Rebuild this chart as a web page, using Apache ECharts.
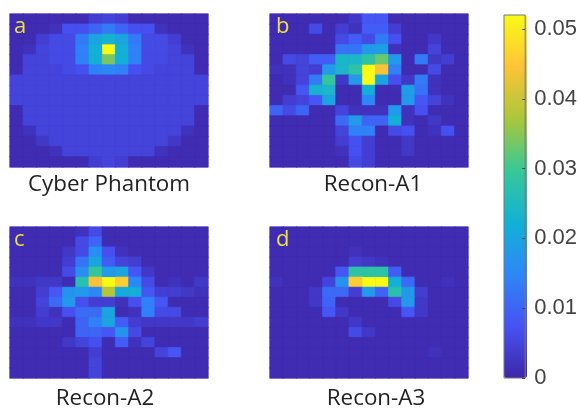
<!DOCTYPE html>
<html><head><meta charset="utf-8">
<style>html,body{margin:0;padding:0;background:#fff}#c{width:580px;height:409px;filter:blur(0.55px)}</style>
<script src="https://cdn.jsdelivr.net/npm/echarts@6/dist/echarts.min.js"></script>
</head><body><div id="c"></div>
<script>
// cell values in units of 0.001, rows top to bottom
const cyberPhantom = [
[1,1,1,1,1,1,4,5,4,1,1,1,1,1,1],
[1,1,1,2,7,7,10,13,10,7,7,2,1,1,1],
[1,1,4,6,6,13,20,23,20,13,6,6,4,1,1],
[1,2,5,6,6,14,22,52,22,14,6,6,5,2,1],
[1,5,5,6,6,14,22,34,22,14,6,6,5,5,1],
[1,5,5,5,6,7,14,15,14,7,6,5,5,5,1],
[5,5,5,5,5,5,5,5,5,5,5,5,5,5,5],
[5,5,5,5,5,5,5,5,5,5,5,5,5,5,5],
[5,5,5,5,5,5,5,5,5,5,5,5,5,5,5],
[1,5,5,5,5,5,5,5,5,5,5,5,5,5,1],
[1,5,5,5,5,5,5,5,5,5,5,5,5,5,1],
[1,2,5,5,5,5,5,5,5,5,5,5,5,2,1],
[1,1,3,5,5,5,5,5,5,5,5,5,3,1,1],
[1,1,1,2,5,5,5,5,5,5,5,2,1,1,1],
[1,1,1,1,1,1,4,5,4,1,1,1,1,1,1]];
const reconA1 = [
[1,1,1,1,1,1,3,8,8,1,1,1,1,1,1],
[1,1,1,6,1,4,2,9,9,4,1,1,1,1,1],
[1,1,1,1,1,6,9,6,13,7,1,1,3,1,1],
[1,1,1,1,1,12,12,18,19,2,1,1,5,1,1],
[1,6,5,9,9,24,24,28,33,18,1,13,3,4,1],
[2,2,5,4,18,24,28,52,44,14,1,1,6,1,1],
[1,2,5,13,29,3,18,52,20,7,3,13,2,1,1],
[1,1,8,23,24,1,1,22,1,1,19,12,2,1,1],
[1,4,5,8,20,1,1,15,1,1,18,8,5,2,1],
[10,6,10,1,1,5,2,2,2,18,2,7,1,1,1],
[1,1,1,1,1,11,18,10,10,22,2,1,3,1,1],
[1,1,1,1,1,5,14,14,1,6,7,1,2,7,1],
[1,1,1,1,1,4,7,4,1,1,3,1,1,1,1],
[1,1,1,1,1,2,7,4,1,1,3,1,1,1,1],
[1,1,1,1,1,1,6,4,1,1,1,1,1,1,1]];
const reconA2 = [
[1,1,1,1,1,2,6,1,1,1,1,1,1,1,1],
[1,1,1,1,1,6,10,1,1,1,1,1,1,1,1],
[1,1,1,1,3,6,16,7,2,1,1,1,1,1,1],
[1,1,1,1,4,12,20,9,5,4,1,1,1,1,1],
[1,1,1,1,6,16,29,18,20,8,3,1,1,1,1],
[2,2,3,3,1,27,44,52,46,15,6,1,2,1,3],
[1,1,4,8,17,18,15,38,21,22,8,4,4,3,2],
[1,1,5,11,18,7,4,4,2,7,14,8,1,1,1],
[1,1,4,2,7,11,11,20,1,2,14,6,6,1,1],
[2,2,3,3,1,10,14,20,9,4,3,3,3,3,4],
[1,1,1,1,1,10,10,8,17,6,1,1,1,1,1],
[1,1,1,1,3,5,7,1,9,2,5,1,1,1,1],
[1,1,1,1,1,1,4,1,1,1,1,5,8,1,1],
[1,1,1,1,1,1,5,1,1,1,1,1,1,1,1],
[1,1,1,1,1,1,5,1,1,1,1,1,1,1,1]];
const reconA3 = [
[1,1,1,1,1,1,1,1,1,1,1,1,1,1,1],
[1,1,1,1,1,1,1,1,1,1,1,1,1,1,1],
[1,1,1,1,1,1,2,1,1,1,1,1,1,1,1],
[1,1,1,1,1,1,4,3,2,1,1,1,1,1,1],
[1,1,1,1,1,8,28,28,28,9,1,1,1,1,1],
[2,1,1,1,5,17,46,52,52,22,11,1,1,2,1],
[1,1,1,3,11,11,4,18,10,27,18,4,1,1,1],
[1,1,1,3,10,1,1,1,1,6,18,3,1,1,1],
[1,1,1,1,8,3,1,1,1,1,8,3,1,1,1],
[1,1,1,1,1,1,3,1,1,1,1,1,1,1,1],
[1,1,1,1,1,1,6,3,1,1,1,1,1,1,1],
[1,1,1,1,1,1,1,1,1,1,1,1,1,1,1],
[1,1,1,1,1,1,1,1,1,1,1,1,2,1,1],
[1,1,1,1,1,1,1,1,1,1,1,1,1,1,1],
[1,1,1,1,1,1,1,1,1,1,1,1,1,1,1]];
const panelMatrices = [cyberPhantom, reconA1, reconA2, reconA3];
const panelTitles = ['Cyber Phantom','Recon-A1','Recon-A2','Recon-A3'];
const panelLetters = ['a','b','c','d'];
const colorbarTicks = [0,0.01,0.02,0.03,0.04,0.05];
const colorbarMax = 0.052;
const parula = ['#3e26a8','#4752f4','#2d87f7','#12b1d6','#37c897','#abc739','#fec338','#f9fb14'];

const rects = [
  {left:10,top:14,width:198,height:153},
  {left:270,top:14,width:198,height:153},
  {left:10,top:227,width:198,height:151},
  {left:270,top:227,width:198,height:151}];
const titleAt = [[109,174],[373,174],[105,388],[376,388]];
const letterAt = [[14,16],[276,16],[14,229],[276,229]];
const idx = Array.from({length:15},(_,i)=>i);

const grid=[],xAxis=[],yAxis=[],series=[],title=[];
panelMatrices.forEach((m,p)=>{
  grid.push({...rects[p],show:true,backgroundColor:'#3e26a8',borderWidth:0});
  xAxis.push({type:'category',gridIndex:p,data:idx,show:false});
  yAxis.push({type:'category',gridIndex:p,data:idx,inverse:true,show:false});
  const data=[];
  m.forEach((row,r)=>row.forEach((v,c)=>data.push({value:[c,r,v*0.001],
    itemStyle:{borderWidth:0.7,borderColor:echarts.color.lerp(v*0.001/colorbarMax,parula)}})));
  series.push({type:'heatmap',xAxisIndex:p,yAxisIndex:p,data,silent:true,progressive:0,animation:false,itemStyle:{opacity:1}});
  title.push({text:panelTitles[p],left:titleAt[p][0],top:titleAt[p][1],textAlign:'center',padding:0,
    textStyle:{fontFamily:'Open Sans',fontSize:22.4,fontWeight:'normal',color:'#222'}});
  title.push({text:panelLetters[p],left:letterAt[p][0],top:letterAt[p][1],padding:0,
    textStyle:{fontFamily:'Open Sans',fontSize:22,fontWeight:'normal',color:'#ece03c'},z:10});
});
// colorbar axis
grid.push({left:504,top:15,width:23,height:363,show:true,borderColor:'#777',borderWidth:1,backgroundColor:'transparent',z:5});
xAxis.push({type:'value',gridIndex:4,show:false});
yAxis.push({type:'value',gridIndex:4,position:'right',min:0,max:colorbarMax,interval:0.01,showMaxLabel:false,z:10,
  splitLine:{show:false},axisLine:{show:false,onZero:false},
  axisTick:{show:true,inside:true,length:3,lineStyle:{color:'#444'},customValues:colorbarTicks},
  axisLabel:{margin:9,fontFamily:'Liberation Sans',fontSize:22,color:'#444',customValues:colorbarTicks,
    formatter:v=>v===0?'0':v.toFixed(2)}});

const chart=echarts.init(document.getElementById('c'),null,{renderer:'canvas'});
chart.setOption({animation:false,backgroundColor:'#fff',title,grid,xAxis,yAxis,series,
  visualMap:{type:'continuous',min:0,max:colorbarMax,left:504,top:15,itemWidth:23,itemHeight:363,padding:0,
    text:['',''],calculable:false,hoverLink:false,seriesIndex:[0,1,2,3],inRange:{color:parula}}
});
</script></body></html>
